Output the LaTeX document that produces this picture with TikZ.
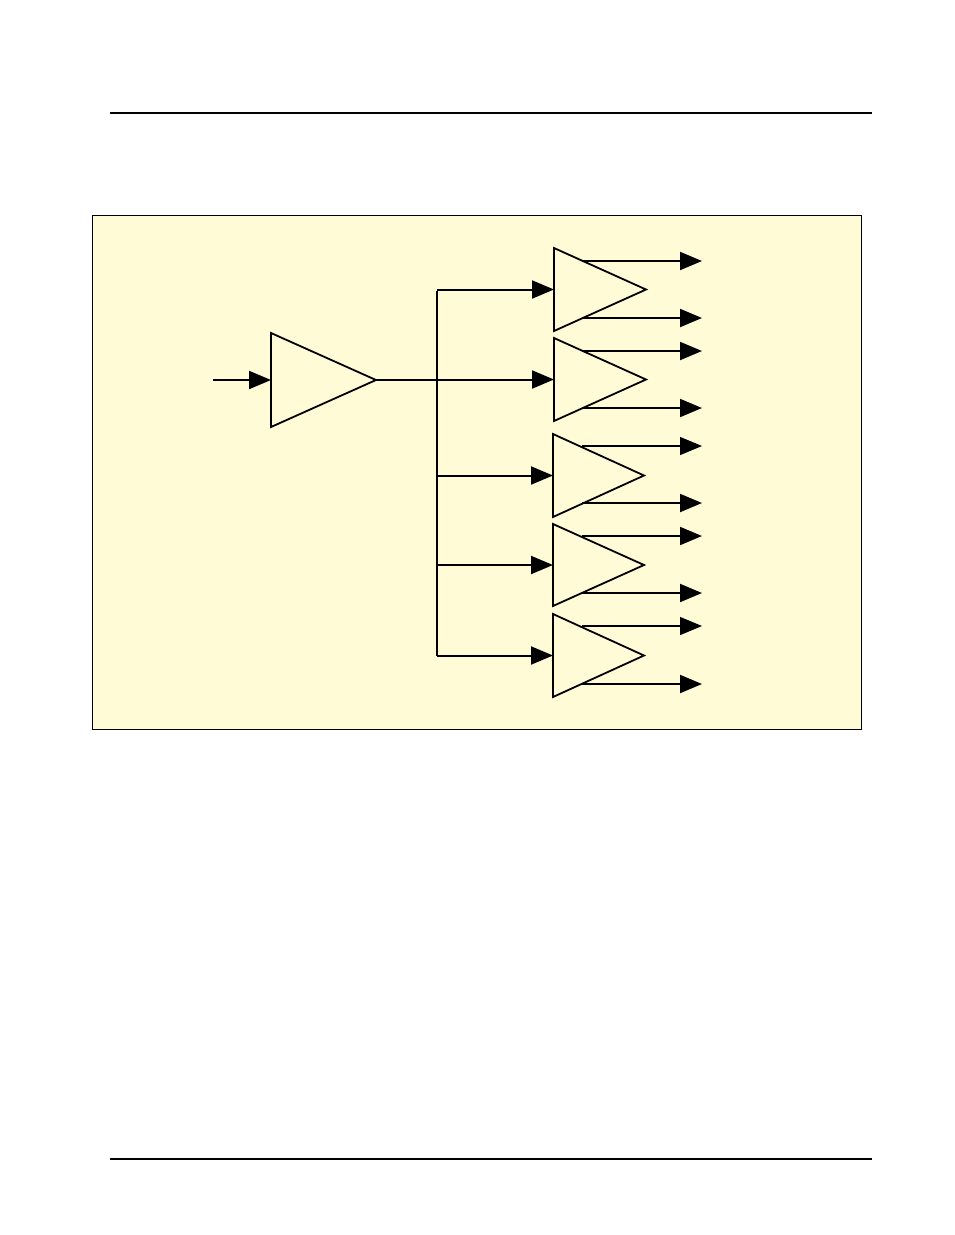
\documentclass[tikz,border=0pt]{standalone}
\usetikzlibrary{arrows.meta}
\definecolor{bg}{HTML}{FFFBD6}
\tikzset{tip/.style={-{Triangle[length=22pt,width=18pt]}},
 wire/.style={line width=2pt,tip},
 amp/.style={draw,line width=1.8pt,fill=bg}}
\begin{document}
\begin{tikzpicture}[x=1pt,y=-1pt]
\useasboundingbox (0,0) rectangle (954,1235);
\draw[line width=1.2pt] (110,113) -- (872,113);
\draw[line width=1.2pt] (110,1159) -- (872,1159);
\draw[fill=bg,line width=1pt] (92,215) rectangle (861,729);
% main amp
\draw[amp] (271,333) -- (376,380) -- (271,427) -- cycle;
\coordinate (in) at (213,380);
\coordinate (ain) at (271,380);
\coordinate (aout) at (376,380);
\draw[wire] (in) -- (ain);
\coordinate (btop) at (437,291);
\coordinate (bbot) at (437,656);
\draw[line width=2pt] (aout) -- (437,380);
\draw[line width=2pt] (btop) -- (bbot);
\foreach \i/\x/\yt/\yb/\tip/\oa/\ob/\w in {1/554/248/331/646/261/318/2pt,2/554/338/421/646/351/408/2pt,3/553/434/517/644/446/503/1.2pt,4/553/524/606/644/536/593/2pt,5/553/614/697/644/626/684/1.2pt}{
  \pgfmathsetmacro\ym{(\yt+\yb)/2}
  \draw[amp] (\x,\yt) -- (\tip,\ym) -- (\x,\yb) -- cycle;
  \coordinate (t\i in) at (\x,\ym);
  \coordinate (b\i) at (437,\ym);
  \draw[wire] (b\i) -- (t\i in);
  \coordinate (o\i a) at (582,\oa);
  \coordinate (o\i b) at (582,\ob);
  \coordinate (e\i a) at (702,\oa);
  \coordinate (e\i b) at (702,\ob);
  \draw[line width=\w,tip] (o\i a) -- (e\i a);
  \draw[line width=2pt,tip] (o\i b) -- (e\i b);
}
\end{tikzpicture}
\end{document}
